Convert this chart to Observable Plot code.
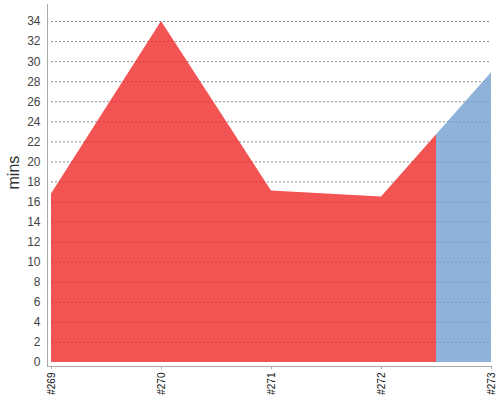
<!DOCTYPE html>
<html>
<head>
<meta charset="utf-8">
<script src="https://cdn.jsdelivr.net/npm/d3@7"></script>
<script src="https://cdn.jsdelivr.net/npm/@observablehq/plot@0.6"></script>
<style>
  html, body { margin: 0; padding: 0; background: #fff; }
</style>
</head>
<body>
<div id="chart"></div>
<script>
// Data
const builds = ["#269", "#270", "#271", "#272", "#273"];
const durations = [16.8, 34, 17.1, 16.5, 28.9];
const results = ["failure", "failure", "failure", "failure", "success"];
const yTicks = [0, 2, 4, 6, 8, 10, 12, 14, 16, 18, 20, 22, 24, 26, 28, 30, 32, 34];
const resultColors = {failure: "#ef2929", success: "#729fcf"};

const idx = builds.map((_, i) => i);
const n = builds.length;

// gradient stops: each build colours the band halfway to its neighbours
function gradientMark() {
  const defs = d3.create("svg:defs");
  const g = defs.append("linearGradient")
    .attr("id", "buildFill")
    .attr("x1", 0).attr("x2", 1).attr("y1", 0).attr("y2", 0);
  idx.forEach(i => {
    const a = Math.max(0, i - 0.5) / (n - 1);
    const b = Math.min(n - 1, i + 0.5) / (n - 1);
    g.append("stop").attr("offset", a).attr("stop-color", resultColors[results[i]]);
    g.append("stop").attr("offset", b).attr("stop-color", resultColors[results[i]]);
  });
  return defs.node();
}

const chart = Plot.plot({
  width: 500,
  height: 400,
  marginLeft: 51,
  marginRight: 9,
  marginTop: 4,
  marginBottom: 38,
  style: {fontFamily: "'Liberation Sans', Arial, sans-serif", background: "#fff"},
  x: {type: "linear", domain: [0, n - 1]},
  y: {domain: [0, 35.7]},
  marks: [
    gradientMark,
    Plot.ruleY(yTicks.filter(d => d > 0), {stroke: "#8a8a8a", strokeDasharray: "2,2", strokeWidth: 1}),
    Plot.areaY(idx, {x: d => d, y: i => durations[i], fill: "url(#buildFill)", fillOpacity: 0.8}),
    Plot.axisY({ticks: yTicks, tickSize: 0, tickPadding: 11, fontSize: 12, color: "#444", label: null}),
    Plot.ruleX([0], {dx: -4, insetBottom: -4, stroke: "#aaa"}),
    Plot.ruleY([0], {dy: 4, insetLeft: -4, stroke: "#aaa"}),
    Plot.axisX({ticks: idx, tickFormat: i => builds[i], tickRotate: -90, tickSize: 3, tickPadding: 3, dy: 4, fontSize: 10, color: "#111", stroke: "#aaa", label: null}),
    Plot.text(["mins"], {frameAnchor: "left", dx: -38, dy: 6, rotate: -90, fontSize: 16, fill: "#333"})
  ]
});
document.getElementById("chart").appendChild(chart);
</script>
</body>
</html>
